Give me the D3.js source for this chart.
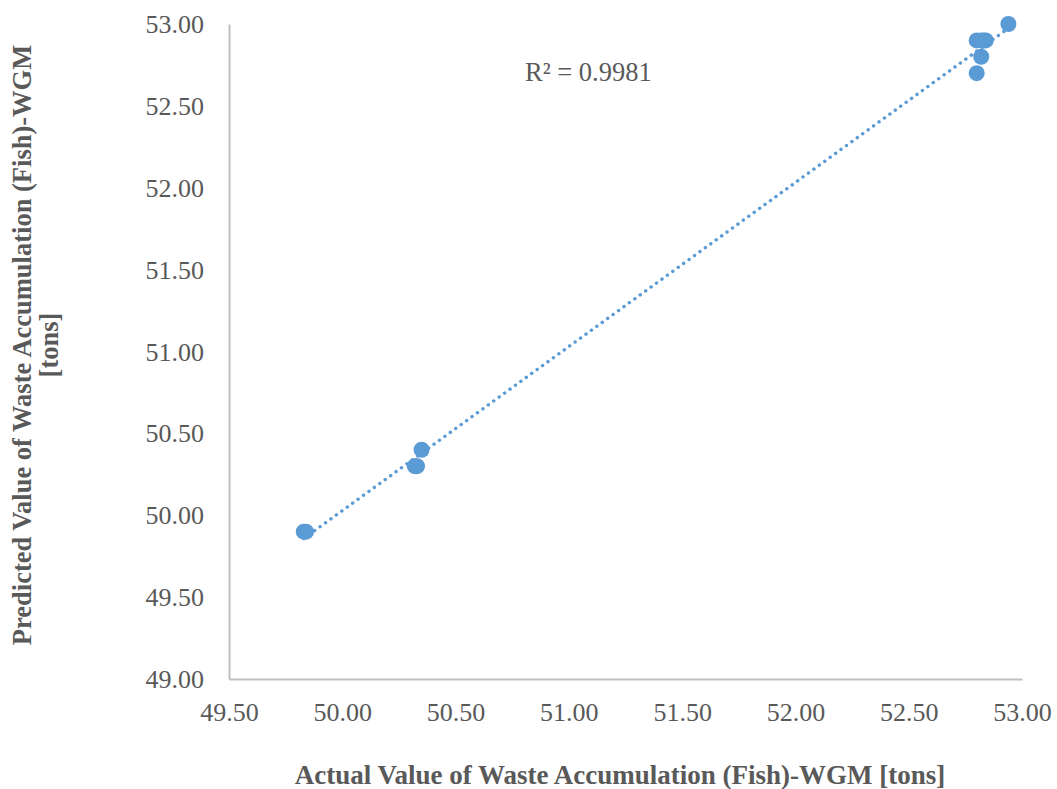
<!DOCTYPE html>
<html>
<head>
<meta charset="utf-8">
<script src="https://cdn.jsdelivr.net/npm/d3@7"></script>
<style>
  html, body { margin: 0; padding: 0; background: #fff; }
  svg { display: block; }
</style>
</head>
<body>
<svg id="chart" width="1057" height="789"></svg>
<script>
// Actual vs predicted waste accumulation (Fish) - WGM, in tons
const actualValues    = [49.83, 49.84, 50.32, 50.33, 50.35, 52.80, 52.82, 52.80, 52.82, 52.83, 52.84, 52.94];
const predictedValues = [49.90, 49.90, 50.30, 50.30, 50.40, 52.70, 52.80, 52.90, 52.90, 52.90, 52.90, 53.00];
const xTickValues = [49.5, 50.0, 50.5, 51.0, 51.5, 52.0, 52.5, 53.0];
const yTickValues = [49.0, 49.5, 50.0, 50.5, 51.0, 51.5, 52.0, 52.5, 53.0];
const rSquaredLabel = "R² = 0.9981";
const xTitle = "Actual Value of Waste Accumulation (Fish)-WGM [tons]";
const yTitleLines = ["Predicted Value of Waste Accumulation (Fish)-WGM", "[tons]"];

const svg = d3.select("#chart");
const margin = { left: 229, right: 35, top: 24, bottom: 110 };
const W = 1057, H = 789;

const x = d3.scaleLinear().domain([49.5, 53.0]).range([margin.left, W - margin.right]);
const y = d3.scaleLinear().domain([49.0, 53.0]).range([H - margin.bottom, margin.top]);

const textColor = "#595959";
const axisColor = "#bfbfbf";
const markColor = "#5b9bd5";
const font = "'Liberation Serif', 'Times New Roman', serif";

// Axes
const xAxis = d3.axisBottom(x).tickValues(xTickValues).tickFormat(d3.format(".2f")).tickSize(0).tickPadding(24);
const yAxis = d3.axisLeft(y).tickValues(yTickValues).tickFormat(d3.format(".2f")).tickSize(0).tickPadding(25);

const gx = svg.append("g").attr("transform", `translate(0,${y(49.0)})`).call(xAxis);
const gy = svg.append("g").attr("transform", `translate(${x(49.5)},0)`).call(yAxis);

[gx, gy].forEach(g => {
  g.select(".domain").attr("stroke", axisColor).attr("stroke-width", 2);
  g.selectAll("text")
    .attr("fill", textColor)
    .style("font-family", font)
    .style("font-size", "26px");
});
gx.selectAll("text").attr("dy", "0.71em");
gy.selectAll("text").attr("dy", "0.33em");

// Linear trendline (least squares) over the data range
const pairs = actualValues.map((a, i) => [a, predictedValues[i]]);
const mx = d3.mean(actualValues), my = d3.mean(predictedValues);
const sxy = d3.sum(pairs, p => (p[0] - mx) * (p[1] - my));
const sxx = d3.sum(pairs, p => (p[0] - mx) ** 2);
const slope = sxy / sxx, intercept = my - slope * mx;
const [xmin, xmax] = d3.extent(actualValues);

svg.append("line")
  .attr("x1", x(xmin)).attr("y1", y(intercept + slope * xmin))
  .attr("x2", x(xmax)).attr("y2", y(intercept + slope * xmax))
  .attr("stroke", markColor)
  .attr("stroke-width", 3.4)
  .attr("stroke-linecap", "round")
  .attr("stroke-dasharray", "0.1,6.6");

// Points
svg.append("g").selectAll("circle")
  .data(pairs)
  .join("circle")
  .attr("cx", d => x(d[0]))
  .attr("cy", d => y(d[1]))
  .attr("r", 8)
  .attr("fill", markColor);

// R² annotation
svg.append("text")
  .attr("x", 525).attr("y", 81)
  .attr("fill", textColor)
  .style("font-family", font)
  .style("font-size", "26.5px")
  .text(rSquaredLabel);

// Axis titles
svg.append("text")
  .attr("x", 620).attr("y", 784)
  .attr("text-anchor", "middle")
  .attr("fill", textColor)
  .style("font-family", font)
  .style("font-size", "27px")
  .style("font-weight", "bold")
  .text(xTitle);

const yt = svg.append("text")
  .attr("transform", "translate(31,345) rotate(-90)")
  .attr("text-anchor", "middle")
  .attr("fill", textColor)
  .style("font-family", font)
  .style("font-size", "26.5px")
  .style("font-weight", "bold");
yTitleLines.forEach((line, i) => {
  yt.append("tspan").attr("x", 0).attr("dy", i === 0 ? 0 : 27).text(line);
});
</script>
</body>
</html>
